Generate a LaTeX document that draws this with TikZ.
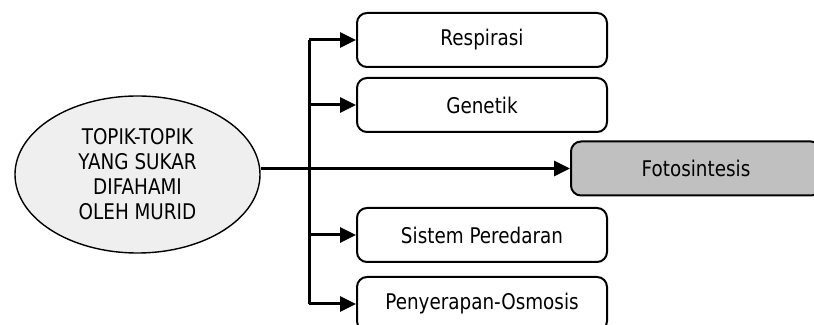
\documentclass[tikz,border=0pt]{standalone}
\usepackage{fontspec}
\setmainfont[FakeStretch=0.85]{DejaVu Sans}
\usetikzlibrary{shapes.geometric,arrows.meta}
\definecolor{ellfill}{HTML}{EFEFEF}
\definecolor{fotofill}{HTML}{C0C0C0}
\begin{document}
\begin{tikzpicture}[x=1pt,y=1pt,
  topicbox/.style={draw=black, line width=2pt, rounded corners=10pt, fill=white,
    minimum width=250pt, minimum height=54pt, inner sep=0pt,
    font=\fontsize{21.6}{25}\selectfont},
  mainline/.style={line width=3pt},
  arr/.style={mainline, -{Triangle[length=16pt,width=15pt]}}]
\useasboundingbox (0,0) rectangle (814,324);
\clip (0,0) rectangle (814,324);
\node[ellipse, draw=black, line width=1.4pt, fill=ellfill, minimum width=245pt, minimum height=157pt,
  inner sep=0pt, align=center, font=\fontsize{21.6}{25}\selectfont] (ell) at (137.5,149.5)
  {TOPIK-TOPIK\\YANG SUKAR\\DIFAHAMI\\OLEH MURID};
\node[topicbox] (resp) at (482,284) {Respirasi};
\node[topicbox] (gen) at (482,219) {Genetik};
\node[topicbox, fill=fotofill] (foto) at (696,155.5) {Fotosintesis};
\node[topicbox] (sist) at (482,89) {Sistem Peredaran};
\node[topicbox] (pen) at (482,20) {Penyerapan-Osmosis};
\coordinate (j) at (309,155.5);
\draw[arr] (ell.east |- foto.west) -- (foto.west);
\draw[mainline] (j |- resp.west) -- (j |- pen.west);
\draw[arr] (j |- resp.west) -- (resp.west);
\draw[arr] (j |- gen.west) -- (gen.west);
\draw[arr] (j |- sist.west) -- (sist.west);
\draw[arr] (j |- pen.west) -- (pen.west);
\end{tikzpicture}
\end{document}
